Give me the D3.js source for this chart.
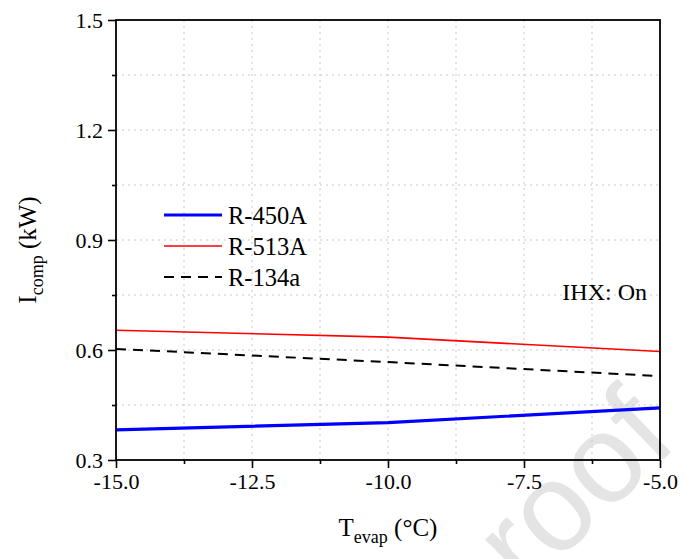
<!DOCTYPE html>
<html>
<head>
<meta charset="utf-8">
<script src="https://cdn.jsdelivr.net/npm/d3@7"></script>
<style>
  html, body { margin: 0; padding: 0; background: #fff; }
  svg { display: block; }
  svg text { font-family: "Liberation Serif", "Times New Roman", Tinos, serif !important; }
  svg text.wm { font-family: "Liberation Sans", Arial, sans-serif !important; }
</style>
</head>
<body>
<script>
// ---- data ----
const tevap = [-15, -10, -5];
const r450A = [0.382, 0.402, 0.442];
const r513A = [0.654, 0.635, 0.596];
const r134a = [0.603, 0.567, 0.529];
const seriesNames = ["R-450A", "R-513A", "R-134a"];
const xTicks = [-15, -12.5, -10, -7.5, -5];
const xMinor = [-13.75, -11.25, -8.75, -6.25];
const yTicks = [0.3, 0.6, 0.9, 1.2, 1.5];
const yMinor = [0.45, 0.75, 1.05, 1.35];

const W = 685, H = 559;
const m = { left: 116, right: 25, top: 20, bottom: 99 };

const svg = d3.select("body").append("svg").attr("width", W).attr("height", H);

// watermark
svg.append("text").attr("class", "wm")
  .attr("transform", "translate(525,593) rotate(-44)")
  .style("font-size", "125px")
  .style("fill", "#e4e4e4")
  .text("roof");

const x = d3.scaleLinear().domain([-15, -5]).range([m.left, W - m.right]);
const y = d3.scaleLinear().domain([0.3, 1.5]).range([H - m.bottom, m.top]);

// grid
const grid = svg.append("g").attr("stroke", "#c8c8c8").attr("stroke-width", 1).attr("stroke-dasharray", "2,4");
xTicks.concat(xMinor).forEach(v => {
  if (v === -15 || v === -5) return;
  grid.append("line").attr("x1", x(v)).attr("x2", x(v)).attr("y1", y(0.3)).attr("y2", y(1.5));
});
yTicks.concat(yMinor).forEach(v => {
  if (v === 0.3 || v === 1.5) return;
  grid.append("line").attr("y1", y(v)).attr("y2", y(v)).attr("x1", x(-15)).attr("x2", x(-5));
});

// lines
const line = d3.line().x((d, i) => x(tevap[i])).y(d => y(d));
svg.append("path").datum(r513A).attr("d", line).attr("fill", "none").attr("stroke", "#ff0000").attr("stroke-width", 1.6);
svg.append("path").datum(r134a).attr("d", line).attr("fill", "none").attr("stroke", "#000").attr("stroke-width", 2).attr("stroke-dasharray", "10,7");
svg.append("path").datum(r450A).attr("d", line).attr("fill", "none").attr("stroke", "#0000ff").attr("stroke-width", 3.2);

// frame
svg.append("rect").attr("x", x(-15)).attr("y", y(1.5)).attr("width", x(-5) - x(-15)).attr("height", y(0.3) - y(1.5))
  .attr("fill", "none").attr("stroke", "#000").attr("stroke-width", 1.8);

// axes
const fmt = d => d3.format(".1f")(d).replace("\u2212", "-");
const xAxis = svg.append("g").attr("transform", `translate(0,${y(0.3)})`)
  .call(d3.axisBottom(x).tickValues(xTicks).tickSize(8).tickPadding(5).tickFormat(fmt));
const xAxisMinor = svg.append("g").attr("transform", `translate(0,${y(0.3)})`)
  .call(d3.axisBottom(x).tickValues(xMinor).tickSize(4).tickFormat(""));
const yAxis = svg.append("g").attr("transform", `translate(${x(-15)},0)`)
  .call(d3.axisLeft(y).tickValues(yTicks).tickSize(8).tickPadding(5).tickFormat(fmt));
const yAxisMinor = svg.append("g").attr("transform", `translate(${x(-15)},0)`)
  .call(d3.axisLeft(y).tickValues(yMinor).tickSize(4).tickFormat(""));
[xAxis, xAxisMinor, yAxis, yAxisMinor].forEach(g => {
  g.attr("font-family", null).attr("font-size", null);
  g.select(".domain").remove();
  g.selectAll(".tick line").attr("stroke", "#000").attr("stroke-width", 1.6);
  g.selectAll("text").style("font-size", "22px").attr("fill", "#000");
});
yAxis.selectAll("text").attr("dy", "0.34em");

// axis titles
const xt = svg.append("text").attr("x", x(-10)).attr("y", 536).attr("text-anchor", "middle").style("font-size", "25px");
xt.append("tspan").text("T");
xt.append("tspan").attr("dy", 7).style("font-size", "18px").text("evap");
xt.append("tspan").attr("dy", -7).text(" (°C)");

const yt = svg.append("text").attr("transform", `translate(36,250) rotate(-90)`).attr("text-anchor", "middle").style("font-size", "25px");
yt.append("tspan").text("I");
yt.append("tspan").attr("dy", 7).style("font-size", "18px").text("comp");
yt.append("tspan").attr("dy", -7).text(" (kW)");

// legend
const legY = [215, 246, 277];
const legStyles = [
  { c: "#0000ff", w: 3.2, d: null },
  { c: "#ff0000", w: 1.6, d: null },
  { c: "#000", w: 2, d: "10,7" }
];
seriesNames.forEach((n, i) => {
  const l = svg.append("line").attr("x1", 164).attr("x2", 222).attr("y1", legY[i]).attr("y2", legY[i])
    .attr("stroke", legStyles[i].c).attr("stroke-width", legStyles[i].w);
  if (legStyles[i].d) l.attr("stroke-dasharray", legStyles[i].d);
  svg.append("text").attr("x", 228).attr("y", legY[i]).attr("dy", "0.35em").style("font-size", "24.5px").text(n);
});

svg.append("text").attr("x", 647).attr("y", 300).attr("text-anchor", "end").style("font-size", "24px").text("IHX: On");
</script>
</body>
</html>
